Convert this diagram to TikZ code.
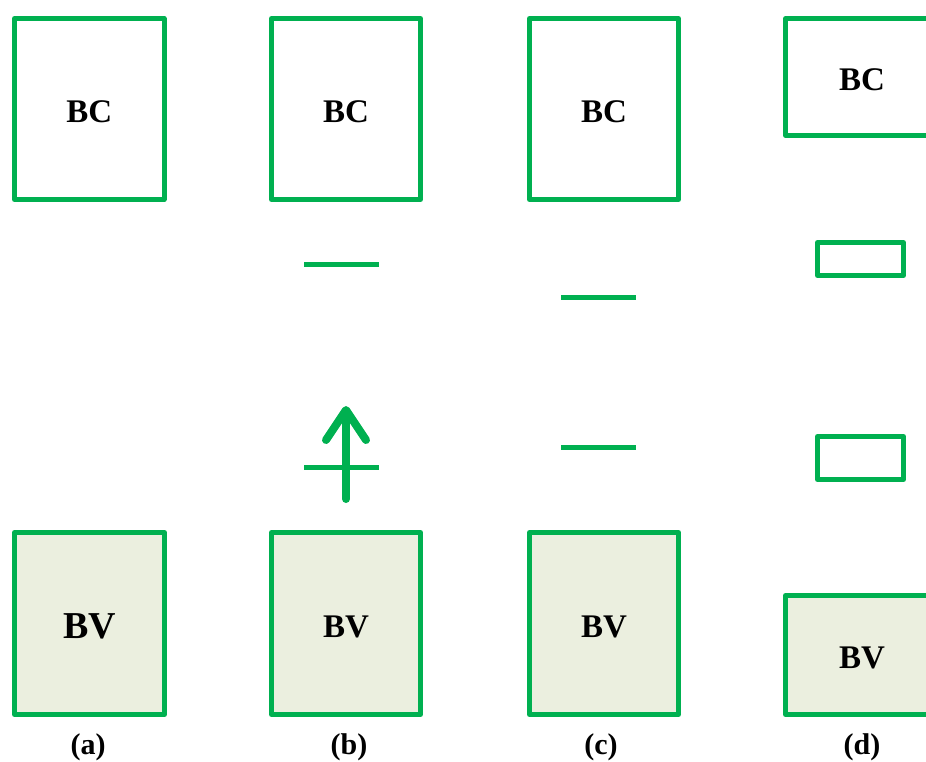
\documentclass[tikz,border=0pt]{standalone}
\usepackage{fontspec}
\setmainfont{Liberation Serif}
\usetikzlibrary{arrows.meta}
\definecolor{lvgreen}{HTML}{00B050}
\definecolor{bandfill}{HTML}{EBEFDF}
\tikzset{
  band/.style={draw=lvgreen, line width=5pt, line join=round, inner sep=0pt,
    text height=27pt, text depth=0pt, font=\fontsize{33}{33}\selectfont\bfseries},
  valence/.style={band, fill=bandfill},
  level/.style={draw=lvgreen, line width=5pt},
  trap/.style={draw=lvgreen, line width=5pt, line join=round, inner sep=0pt},
  caption/.style={font=\fontsize{30}{30}\selectfont\bfseries},
  excite/.style={draw=lvgreen, line width=8pt, line cap=round,
    -{Straight Barb[length=30pt, width=40pt, line cap=round, line join=round]}}
}
\begin{document}
\begin{tikzpicture}[x=1pt, y=-1pt]
\path[clip] (0,0) rectangle (926,761);
\useasboundingbox (0,0) rectangle (926,761);

% (a) conduction and valence bands only
\node[band, minimum width=149.5pt, minimum height=181pt] (bcA) at (89.3,109) {BC};
\node[valence, minimum width=150pt, minimum height=182pt, text height=30pt,
  font=\fontsize{38}{38}\selectfont\bfseries] (bvA) at (89.5,623.5) {BV};
\node[caption] (capA) at (88,747) {(a)};

% (b) one level below BC, excitation across a level near BV
\node[band, minimum width=149pt, minimum height=181pt] (bcB) at (346,109) {BC};
\node[valence, minimum width=149pt, minimum height=182pt] (bvB) at (346,623.5) {BV};
\coordinate (lbL) at (304,264);
\coordinate (lbR) at (379,264);
\draw[level] (lbL) -- (lbR);
\coordinate (ldL) at (304,467);
\coordinate (ldR) at (379,467);
\draw[level] (ldL) -- (ldR);
\coordinate (exS) at (346,499);
\coordinate (exE) at (346,406);
\draw[excite] (exS) -- (exE);
\node[caption] (capB) at (349,747) {(b)};

% (c) two levels inside the gap
\node[band, minimum width=149pt, minimum height=181pt] (bcC) at (604,109) {BC};
\node[valence, minimum width=149pt, minimum height=182pt] (bvC) at (604,623.5) {BV};
\coordinate (lcAL) at (561,297);
\coordinate (lcAR) at (636,297);
\draw[level] (lcAL) -- (lcAR);
\coordinate (lcBL) at (561,447);
\coordinate (lcBR) at (636,447);
\draw[level] (lcBL) -- (lcBR);
\node[caption] (capC) at (601,747) {(c)};

% (d) narrowed bands with two trap states
\node[band, minimum width=153pt, minimum height=116.5pt] (bcD) at (862,77) {BC};
\node[valence, minimum width=153pt, minimum height=119pt] (bvD) at (862,655) {BV};
\node[trap, minimum width=86pt, minimum height=33pt] (trUp) at (860.5,259) {};
\node[trap, minimum width=86pt, minimum height=43pt] (trDn) at (860.5,458) {};
\node[caption] (capD) at (862,747) {(d)};
\end{tikzpicture}
\end{document}
